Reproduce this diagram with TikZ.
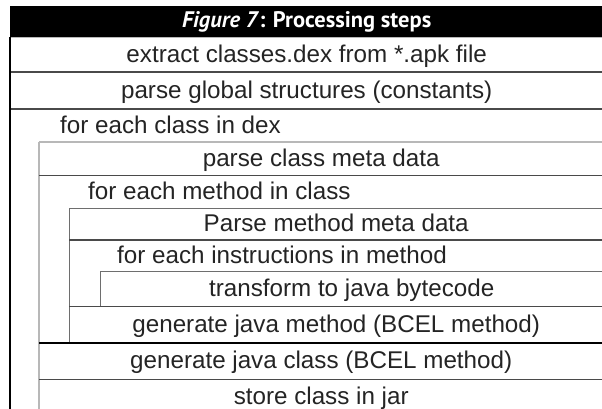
\documentclass[tikz,border=0pt]{standalone}
\usepackage{fontspec}
\setmainfont{Liberation Sans}
\newfontfamily\headfont{PT Sans}
\usetikzlibrary{positioning}

\definecolor{textgray}{HTML}{242424}
\definecolor{rulegray}{HTML}{4A4A4A}
\definecolor{sidegray}{HTML}{B8B8B8}
\definecolor{thingray}{HTML}{6E6E6E}

\begin{document}
\begin{tikzpicture}[
    x=1pt, y=-1pt,
    title/.style={rectangle, fill=black, text=white, inner sep=0pt, anchor=north west, minimum width=593pt, minimum height=31pt, font=\headfont\fontsize{22.5}{24}\selectfont\bfseries},
    stepbox/.style={rectangle, inner sep=0pt, anchor=north west, text=textgray, text height=19pt, text depth=4pt, font=\fontsize{24.2}{28}\selectfont},
    loopbox/.style={rectangle, inner sep=0pt, anchor=north west},
    looplabel/.style={anchor=west, inner sep=0pt, text=textgray, text height=19pt, text depth=4pt, font=\fontsize{24.2}{28}\selectfont},
    rule/.style={draw=rulegray, line width=1.6pt},
    thinrule/.style={draw=thingray, line width=0.9pt},
    side/.style={draw=sidegray, line width=2.4pt}
]
\useasboundingbox (0,0) rectangle (602,408);

% Title
\node[title] (title) at (10,6) {\textit{Figure 7}: Processing steps};

% Top level steps
\node[stepbox, minimum width=593pt, minimum height=34pt, below=0pt of title] (extract) {extract classes.dex from *.apk file};
\node[stepbox, minimum width=593pt, minimum height=37pt, below=0pt of extract] (global) {parse global structures (constants)};

% Class loop
\node[loopbox, minimum width=593pt, minimum height=305pt, below=0pt of global] (classloop) {};
\node[looplabel] (classlbl) at ([xshift=50pt, yshift=-16.5pt]classloop.north west) {for each class in dex};
\node[stepbox, minimum width=564pt, minimum height=33pt, below right=33pt and 29pt of classloop.north west] (classmeta) {parse class meta data};

% Method loop
\node[loopbox, minimum width=564pt, minimum height=167pt, below=0pt of classmeta] (methodloop) {};
\node[looplabel] (methodlbl) at ([xshift=49pt, yshift=-16.5pt]methodloop.north west) {for each method in class};
\node[stepbox, minimum width=534pt, minimum height=31pt, below right=33pt and 30pt of methodloop.north west] (methodmeta) {Parse method meta data};

% Instruction loop
\node[loopbox, minimum width=534pt, minimum height=66pt, below=0pt of methodmeta] (instrloop) {};
\node[looplabel] (instrlbl) at ([xshift=48pt, yshift=-15.5pt]instrloop.north west) {for each instructions in method};
\node[stepbox, minimum width=503pt, minimum height=35pt, below right=31pt and 31pt of instrloop.north west] (transform) {transform to java bytecode};

% After the loops
\node[stepbox, minimum width=534pt, minimum height=37pt, below=0pt of instrloop] (genmethod) {generate java method (BCEL method)};
\node[stepbox, minimum width=564pt, minimum height=36pt, below=0pt of methodloop] (genclass) {generate java class (BCEL method)};
\node[stepbox, minimum width=564pt, minimum height=34pt, below=0pt of genclass] (store) {store class in jar};

% Loop sides
\draw[side] (classmeta.north west) -- ([yshift=-10pt]store.south west);
\draw[thinrule] (methodmeta.north west) -- (genmethod.south west);
\draw[thinrule] (transform.north west) -- (transform.south west);

% Rules between steps
\draw[thinrule, draw=sidegray] (title.south west) -- (title.south east);
\draw[rule] (extract.south west) -- (extract.south east);
\draw[rule] (global.south west) -- (global.south east);
\draw[rule, draw=sidegray] (classmeta.north west) -- (classmeta.north east);
\draw[rule] (classmeta.south west) -- (classmeta.south east);
\draw[thinrule] (methodmeta.north west) -- (methodmeta.north east);
\draw[rule] (methodmeta.south west) -- (methodmeta.south east);
\draw[thinrule] (transform.north west) -- (transform.north east);
\draw[rule, line width=1.2pt] (genmethod.north west) -- (genmethod.north east);
\draw[rule, draw=black] (genclass.north west) -- (genclass.north east);
\draw[rule] (genclass.south west) -- (genclass.south east);

% Outer border
\draw[rule, draw=black] (extract.north west) -- (classloop.south west);

\end{tikzpicture}
\end{document}
